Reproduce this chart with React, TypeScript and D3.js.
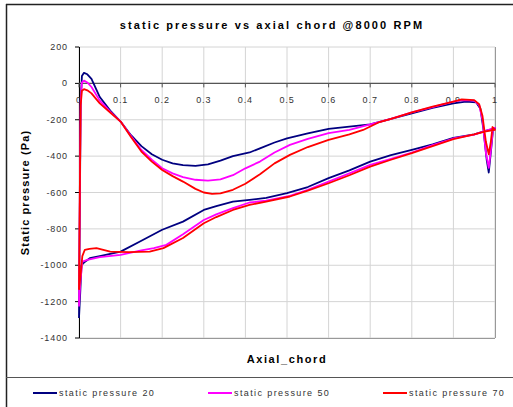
import * as d3 from 'd3';
import React from 'react';

// axial chord position, static pressure (Pa); each loop runs LE -> upper side -> TE -> lower side -> LE
const sp20: [number, number][] = [
  [0, -1290], [0.002, -700], [0.004, -100], [0.007, 40], [0.012, 58], [0.02, 50], [0.03, 25],
  [0.05, -75], [0.075, -150], [0.1, -210], [0.125, -285], [0.15, -345], [0.175, -390], [0.2, -420],
  [0.225, -440], [0.25, -450], [0.28, -454], [0.31, -445], [0.34, -425], [0.37, -400], [0.41, -380],
  [0.435, -357], [0.47, -325], [0.5, -302], [0.55, -275], [0.6, -250], [0.65, -238], [0.7, -225],
  [0.75, -195], [0.8, -165], [0.85, -135], [0.9, -110], [0.93, -100], [0.955, -105], [0.965, -140],
  [0.972, -250], [0.98, -420], [0.985, -490], [0.99, -380], [0.995, -260], [1.0, -247],
  [0.975, -263], [0.95, -280], [0.9, -300], [0.85, -335], [0.8, -366], [0.75, -395], [0.7, -430],
  [0.65, -478], [0.6, -521], [0.55, -570], [0.5, -604], [0.45, -630], [0.41, -641], [0.37, -650],
  [0.33, -675], [0.3, -696], [0.25, -760], [0.2, -805], [0.15, -865], [0.1, -925], [0.05, -950],
  [0.026, -961], [0.012, -985], [0.006, -1000], [0.003, -1150], [0, -1290],
];

const sp50: [number, number][] = [
  [0, -1227], [0.002, -600], [0.004, -100], [0.007, 5], [0.012, 15], [0.02, 5], [0.03, -20],
  [0.05, -95], [0.075, -155], [0.1, -210], [0.125, -290], [0.15, -366], [0.175, -420], [0.2, -467],
  [0.225, -495], [0.25, -515], [0.28, -530], [0.31, -535], [0.34, -528], [0.37, -505], [0.4, -467],
  [0.435, -430], [0.47, -380], [0.507, -338], [0.55, -305], [0.6, -274], [0.65, -256], [0.7, -225],
  [0.75, -195], [0.8, -160], [0.85, -130], [0.9, -100], [0.92, -92], [0.95, -95], [0.962, -120],
  [0.97, -200], [0.978, -380], [0.985, -465], [0.99, -370], [0.995, -255], [1.0, -245],
  [0.975, -263], [0.95, -282], [0.9, -303], [0.85, -340], [0.8, -380], [0.75, -415], [0.7, -448],
  [0.65, -495], [0.6, -540], [0.55, -585], [0.507, -619], [0.45, -645], [0.41, -655], [0.37, -686],
  [0.33, -720], [0.3, -751], [0.25, -830], [0.21, -888], [0.18, -906], [0.15, -918], [0.1, -943],
  [0.05, -955], [0.02, -970], [0.008, -980], [0.003, -1100], [0, -1227],
];

const sp70: [number, number][] = [
  [0, -1135], [0.002, -600], [0.004, -120], [0.007, -40], [0.012, -32], [0.02, -38], [0.03, -55],
  [0.05, -110], [0.075, -160], [0.1, -210], [0.125, -295], [0.15, -375], [0.175, -430], [0.2, -476],
  [0.225, -510], [0.25, -540], [0.28, -580], [0.3, -600], [0.32, -608], [0.34, -605], [0.37, -585],
  [0.4, -552], [0.435, -500], [0.47, -440], [0.507, -393], [0.55, -350], [0.6, -311], [0.65, -280],
  [0.683, -256], [0.72, -215], [0.75, -195], [0.8, -160], [0.85, -128], [0.9, -100], [0.92, -88],
  [0.95, -92], [0.962, -115], [0.97, -180], [0.978, -320], [0.985, -390], [0.99, -320], [0.994, -240],
  [1.0, -255],
  [0.975, -265], [0.95, -280], [0.9, -307], [0.85, -345], [0.8, -384], [0.75, -420], [0.7, -458],
  [0.65, -505], [0.6, -549], [0.55, -590], [0.507, -622], [0.45, -650], [0.41, -668], [0.37, -696],
  [0.33, -735], [0.3, -769], [0.25, -850], [0.203, -906], [0.17, -925], [0.12, -928], [0.075, -925],
  [0.042, -906], [0.025, -910], [0.014, -915], [0.008, -950], [0.004, -1050], [0, -1135],
];

const seriesNames = ['static pressure 20', 'static pressure 50', 'static pressure 70'];
const seriesColors = ['#000080', '#ff00ff', '#ff0000'];
const xTicks = [0, 0.1, 0.2, 0.3, 0.4, 0.5, 0.6, 0.7, 0.8, 0.9, 1];
const yTicks = [200, 0, -200, -400, -600, -800, -1000, -1200, -1400];

const W = 513, H = 407;
const plot = { left: 79, right: 495, top: 47, bottom: 338 };
const font = 'Arial, "Liberation Sans", sans-serif';

export default function App() {
  const x = d3.scaleLinear().domain([0, 1]).range([plot.left, plot.right]);
  const y = d3.scaleLinear().domain([-1400, 200]).range([plot.bottom, plot.top]);
  const line = d3.line<[number, number]>().x(d => x(d[0])).y(d => y(d[1]));
  const all = [sp20, sp50, sp70];

  return (
    <svg width={W} height={H} style={{ position: 'absolute', left: 0, top: 0, background: '#fff' }}>
      {/* outer frame */}
      <line x1={6.5} y1={4} x2={6.5} y2={H} stroke="#222" strokeWidth={1.5} />
      <line x1={6} y1={4.5} x2={W} y2={4.5} stroke="#222" strokeWidth={1.5} />
      <line x1={6} y1={377.5} x2={W} y2={377.5} stroke="#555" strokeWidth={1} />

      <text x={272} y={29} textAnchor="middle" fontFamily={font} fontWeight="bold" fontSize={11}
        letterSpacing={2.1} fill="#000">static pressure vs axial chord @8000 RPM</text>

      {/* grid */}
      {xTicks.map(t => (
        <line key={'gx' + t} x1={x(t)} x2={x(t)} y1={plot.top} y2={plot.bottom} stroke="#d4d4d4" />
      ))}
      {yTicks.map(t => (
        <line key={'gy' + t} x1={plot.left} x2={plot.right} y1={y(t)} y2={y(t)} stroke="#d4d4d4" />
      ))}
      <line x1={plot.right + 0.5} x2={plot.right + 0.5} y1={plot.top} y2={plot.bottom} stroke="#999" />
      <line x1={plot.left} x2={plot.right} y1={plot.bottom + 0.5} y2={plot.bottom + 0.5} stroke="#999" />

      {/* y axis */}
      <line x1={plot.left + 0.5} x2={plot.left + 0.5} y1={plot.top} y2={plot.bottom} stroke="#000" />
      {yTicks.map(t => (
        <g key={'yt' + t}>
          <line x1={plot.left - 4} x2={plot.left} y1={y(t)} y2={y(t)} stroke="#000" />
          <text x={68} y={y(t) + 3} textAnchor="end" fontFamily={font} fontSize={9} letterSpacing={0.9}
            fill="#333">{t}</text>
        </g>
      ))}

      {/* x axis at zero */}
      <line x1={plot.left} x2={plot.right} y1={y(0)} y2={y(0)} stroke="#555" strokeWidth={1.2} />
      {xTicks.map(t => (
        <g key={'xt' + t}>
          <line x1={x(t)} x2={x(t)} y1={y(0)} y2={y(0) + 4} stroke="#555" />
          <text x={x(t)} y={103} textAnchor="middle" fontFamily={font} fontSize={9} letterSpacing={0.9}
            fill="#333">{t}</text>
        </g>
      ))}

      {/* series */}
      {all.map((s, i) => (
        <path key={seriesNames[i]} d={line(s) || ''} fill="none" stroke={seriesColors[i]}
          strokeWidth={1.8} strokeLinejoin="round" />
      ))}

      <text x={287} y={363} textAnchor="middle" fontFamily={font} fontWeight="bold" fontSize={11}
        letterSpacing={1.6} fill="#000">Axial_chord</text>
      <text transform={`translate(29,${(plot.top + plot.bottom) / 2}) rotate(-90)`} textAnchor="middle"
        fontFamily={font} fontWeight="bold" fontSize={11} letterSpacing={1.1} fill="#000">Static pressure (Pa)</text>

      {/* legend */}
      {seriesNames.map((n, i) => (
        <g key={'lg' + n} transform={`translate(${33 + i * 175},393)`}>
          <line x1={0} x2={24} y1={0} y2={0} stroke={seriesColors[i]} strokeWidth={2} />
          <text x={26} y={3} fontFamily={font} fontSize={9} letterSpacing={1.4} fill="#333">{n}</text>
        </g>
      ))}
    </svg>
  );
}
